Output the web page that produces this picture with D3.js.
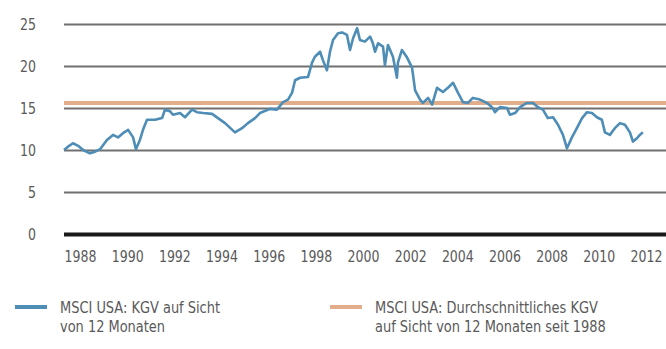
<!DOCTYPE html>
<html>
<head>
<meta charset="utf-8">
<script src="https://cdn.jsdelivr.net/npm/d3@7/dist/d3.min.js"></script>
<style>
  html, body { margin: 0; padding: 0; background: #fff; }
  svg { display: block; }
  text { font-family: "Liberation Sans Narrow", "DejaVu Sans Condensed", "Arial Narrow", sans-serif; fill: #595959; }
</style>
</head>
<body>
<div id="chart"></div>
<script>
// MSCI USA: KGV auf Sicht von 12 Monaten
const years = [
  1987.32, 1987.49, 1987.70, 1987.92, 1988.13, 1988.42, 1988.64, 1988.85, 1989.14, 1989.40,
  1989.61, 1989.82, 1990.04, 1990.25, 1990.37, 1990.54, 1990.67, 1990.84, 1991.18, 1991.48,
  1991.60, 1991.82, 1991.94, 1992.24, 1992.45, 1992.75, 1992.96, 1993.22, 1993.60, 1993.85,
  1994.15, 1994.57, 1994.87, 1995.12, 1995.42, 1995.63, 1996.06, 1996.35, 1996.61, 1996.82,
  1996.99, 1997.12, 1997.33, 1997.67, 1997.84, 1997.96, 1998.18, 1998.30, 1998.47, 1998.60,
  1998.73, 1998.94, 1999.11, 1999.32, 1999.45, 1999.58, 1999.75, 1999.87, 2000.08, 2000.30,
  2000.42, 2000.51, 2000.64, 2000.85, 2000.93, 2001.06, 2001.27, 2001.44, 2001.48, 2001.65,
  2001.87, 2002.08, 2002.21, 2002.42, 2002.54, 2002.76, 2002.93, 2003.14, 2003.39, 2003.60,
  2003.82, 2004.03, 2004.24, 2004.45, 2004.66, 2004.96, 2005.26, 2005.47, 2005.60, 2005.81,
  2006.11, 2006.23, 2006.45, 2006.66, 2006.95, 2007.21, 2007.42, 2007.63, 2007.84, 2008.06,
  2008.27, 2008.48, 2008.65, 2008.86, 2009.07, 2009.29, 2009.50, 2009.71, 2009.92, 2010.13,
  2010.26, 2010.47, 2010.68, 2010.90, 2011.11, 2011.32, 2011.45, 2011.62, 2011.74, 2011.87
]
const pe = [
  10.0, 10.4, 10.8, 10.5, 10.0, 9.6, 9.8, 10.1, 11.2, 11.8,
  11.5, 12.0, 12.4, 11.5, 10.1, 11.2, 12.4, 13.6, 13.6, 13.8,
  14.8, 14.6, 14.2, 14.4, 13.9, 14.8, 14.5, 14.4, 14.3, 13.8,
  13.2, 12.1, 12.6, 13.2, 13.8, 14.4, 14.9, 14.8, 15.7, 16.0,
  16.8, 18.3, 18.6, 18.7, 20.4, 21.1, 21.7, 20.7, 19.5, 21.7,
  23.1, 23.9, 24.0, 23.7, 21.9, 23.3, 24.5, 23.1, 22.9, 23.5,
  22.7, 21.7, 22.7, 22.3, 20.1, 22.5, 21.1, 18.6, 20.4, 21.9,
  21.0, 19.8, 17.1, 16.0, 15.6, 16.2, 15.4, 17.4, 16.9, 17.4,
  18.0, 16.8, 15.7, 15.6, 16.2, 16.0, 15.6, 15.1, 14.5, 15.1,
  15.0, 14.2, 14.4, 15.1, 15.6, 15.6, 15.1, 14.8, 13.8, 13.9,
  13.0, 11.8, 10.2, 11.5, 12.6, 13.8, 14.5, 14.4, 13.9, 13.6,
  12.1, 11.8, 12.6, 13.2, 13.0, 12.1, 11.0, 11.4, 11.8, 12.1
]
// Durchschnittliches KGV seit 1988
const avgPE = 15.6

const yTicks = [0, 5, 10, 15, 20, 25]
const xTicks = [1988, 1990, 1992, 1994, 1996, 1998, 2000, 2002, 2004, 2006, 2008, 2010, 2012]

const legendBlue = ['MSCI USA: KGV auf Sicht', 'von 12 Monaten']
const legendOrange = ['MSCI USA: Durchschnittliches KGV', 'auf Sicht von 12 Monaten seit 1988']

const width = 666
const height = 349
const blue = '#4e8db6'
const orange = '#e2ad8b'

// schmale Schrift nachbilden (kein Condensed-Font installiert)
const condense = (sel, factor) => {
  sel.each(function () {
    const w = this.getComputedTextLength()
    d3.select(this)
      .attr('textLength', w * factor)
      .attr('lengthAdjust', 'spacingAndGlyphs')
  })
}

const svg = d3.select('#chart')
  .append('svg')
  .attr('width', width)
  .attr('height', height)

const x = d3.scaleLinear().domain([1987.32, 2012.85]).range([64, 666])
const y = d3.scaleLinear().domain([0, 25]).range([234, 24])

// Gitterlinien + y-Beschriftung
const yAxis = svg.append('g')
  .attr('transform', 'translate(64,0)')
  .call(d3.axisLeft(y).tickValues(yTicks).tickSize(-(666 - 64)).tickPadding(28))

yAxis.select('.domain').remove()
yAxis.selectAll('.tick line')
  .attr('stroke', d => d === 0 ? '#1a1a1a' : '#707070')
  .attr('stroke-width', d => d === 0 ? 4 : 1.8)
yAxis.selectAll('.tick text')
  .attr('font-size', 16)
  .attr('dy', '0.34em')

// x-Beschriftung
const xAxis = svg.append('g')
  .attr('transform', 'translate(0,236)')
  .call(d3.axisBottom(x).tickValues(xTicks).tickFormat(d3.format('d')).tickSize(0).tickPadding(15))

xAxis.select('.domain').remove()
xAxis.selectAll('.tick text')
  .attr('font-size', 16)

svg.selectAll('g.tick text')
  .attr('font-family', null)
  .attr('fill', '#595959')
  .call(condense, 0.87)

// Durchschnittslinie
svg.append('line')
  .attr('x1', 64)
  .attr('x2', 666)
  .attr('y1', y(avgPE))
  .attr('y2', y(avgPE))
  .attr('stroke', orange)
  .attr('stroke-width', 4)

// KGV-Linie
const line = d3.line()
  .x((d, i) => x(years[i]))
  .y(d => y(d))

svg.append('path')
  .datum(pe)
  .attr('fill', 'none')
  .attr('stroke', blue)
  .attr('stroke-width', 2.6)
  .attr('stroke-linejoin', 'round')
  .attr('d', line)

// Legende
const legend = [
  { color: blue, lines: legendBlue, x: 15 },
  { color: orange, lines: legendOrange, x: 330 }
]

const lg = svg.append('g')
lg.selectAll('g')
  .data(legend)
  .join('g')
  .each(function (d) {
    const g = d3.select(this)
    g.append('rect')
      .attr('x', d.x)
      .attr('y', 305)
      .attr('width', 32)
      .attr('height', 4)
      .attr('fill', d.color)
    g.selectAll('text')
      .data(d.lines)
      .join('text')
      .attr('x', d.x + 45)
      .attr('y', (t, i) => 313 + i * 19)
      .attr('font-size', 16)
      .text(t => t)
      .call(condense, 0.9)
  })
</script>
</body>
</html>
